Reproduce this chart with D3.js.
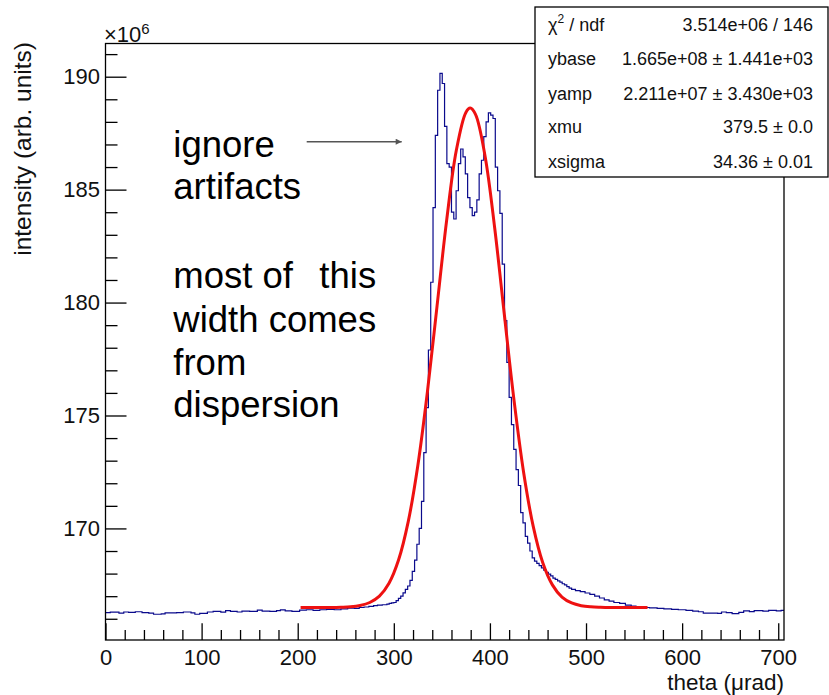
<!DOCTYPE html>
<html><head><meta charset="utf-8">
<script src="https://cdn.jsdelivr.net/npm/d3@7"></script>
<style>
html,body{margin:0;padding:0;background:#fff;}
svg{display:block;font-family:"Liberation Sans",Arial,Helvetica,sans-serif;}
</style></head>
<body><svg id="c" width="829" height="695"></svg>
<script>
// ---------- data (values in units of 1e6) ----------
const histBins = [ // [lowEdge, value]
[0,166.27],[5,166.29],[14,166.25],[19,166.3],[24,166.28],[31,166.31],[38,166.27],[45,166.25],[50,166.2],[58,166.22],
[62,166.26],[74,166.27],[81,166.3],[89,166.26],[93,166.2],[98,166.24],[106,166.3],[112,166.33],[120,166.29],[125,166.36],
[130,166.33],[137,166.3],[142,166.34],[150,166.33],[158,166.38],[163,166.34],[171,166.33],[178,166.36],[182,166.39],[187,166.35],
[194,166.33],[202,166.38],[209,166.4],[216,166.37],[223,166.4],[230,166.42],[238,166.4],[245,166.44],[252,166.47],[259,166.46],
[264,166.5],[269,166.52],[274,166.55],[279,166.58],[283,166.6],[288,166.62],[292.8,166.65],[295.2,166.68],[297.6,166.7],
[300.0,166.72],[302.4,166.8],[304.8,166.9],[307.2,167.0],[309.6,167.15],[312.0,167.3],[314.4,167.45],[316.8,167.7],[319.2,168.1],
[321.6,168.6],[324.0,169.3],[326.4,170.0],[328.8,171.2],[331.2,173.36],[333.6,175.35],[336.0,177.9],[338.4,180.9],
[340.8,184.2],[343.2,187.4],[345.6,189.4],[348.0,190.15],[350.4,189.7],[352.8,187.8],[355.2,186.15],[357.6,186.0],
[360.0,184.0],[362.4,183.7],[364.8,184.95],[367.2,186.15],[369.6,186.8],[372.0,186.45],[374.4,185.7],[376.8,184.65],
[379.2,184.2],[381.6,183.85],[384.0,184.0],[386.4,184.55],[388.8,185.7],[391.2,186.3],[393.6,187.35],[396.0,188.0],
[398.4,188.4],[400.8,188.3],[403.2,188.15],[405.6,186.0],[408.0,184.95],[410.4,183.95],[412.8,181.7],[415.2,179.2],
[417.6,177.35],[420.0,175.8],[422.4,174.6],[424.8,173.5],[427.2,172.6],[429.6,171.9],[432.0,170.7],[434.4,170.25],
[436.8,169.65],[439.2,169.35],[441.6,169.0],[444.0,168.7],[446.4,168.55],[448.8,168.45],[451.2,168.35],[453.6,168.25],
[456.0,168.15],[458.4,168.05],[460.8,167.98],[463.2,167.9],[465.6,167.8],[468.0,167.74],[470.4,167.68],[472.8,167.62],
[475.2,167.55],[477.6,167.5],[480.0,167.42],[482.4,167.36],[485,167.3],[489,167.25],[494,167.2],[499,167.14],[504,167.08],
[509,167.0],[514,166.92],[519,166.84],[524,166.78],[529,166.72],[535,166.68],[541,166.6],[547,166.56],[552,166.53],
[559,166.5],[566,166.48],[574,166.46],[581,166.44],[589,166.42],[596,166.4],[604,166.37],[611,166.34],[617,166.31],
[622,166.25],[637,166.24],[641,166.3],[646,166.27],[652,166.23],[659,166.28],[664,166.35],[670,166.32],[675,166.36],
[684,166.34],[690,166.37],[698,166.35],[703,166.37]
];
const histEnd = 706;

const fitCurve = [ // [theta, value] read along the red fit
[203,166.50],[215,166.50],[225,166.50],[235,166.50],[245,166.51],[255,166.53],[265,166.59],[275,166.72],[285,167.00],
[295,167.57],[305,168.61],[315,170.30],[325,172.79],[335,176.06],[345,179.85],[355,183.65],[365,186.73],[375,188.42],
[379.5,188.61],[385,188.33],[395,186.47],[405,183.29],[415,179.47],[425,175.70],[435,172.50],[445,170.10],[455,168.48],
[465,167.50],[475,166.96],[485,166.70],[495,166.58],[505,166.53],[515,166.51],[525,166.50],[535,166.50],[545,166.50],
[555,166.50],[564,166.50]
];

const xMajorTicks = [0,100,200,300,400,500,600,700];
const yMajorTicks = [170,175,180,185,190];
const xDomain = [0, 706];
const yDomain = [165.06, 191.47];

const statLabels = ["χ2 / ndf","ybase","yamp","xmu","xsigma"];
const statValues = ["3.514e+06 / 146","1.665e+08 ± 1.441e+03","2.211e+07 ± 3.430e+03","379.5 ± 0.0","34.36 ± 0.01"];

const noteTop = ["ignore","artifacts"];
const noteBottom = ["most of","width comes","from","dispersion"];
const noteThis = "this";

const xTitle = "theta (μrad)";
const yTitle = "intensity (arb. units)";

// ---------- drawing ----------
const svg = d3.select("#c");
const FL = 105.5, FR = 784, FT = 43.5, FB = 640;
const x = d3.scaleLinear().domain(xDomain).range([FL, FR]);
const y = d3.scaleLinear().domain(yDomain).range([FB, FT]);

svg.append("rect").attr("width",829).attr("height",695).attr("fill","#fff");

// histogram
const stepPts = histBins.map(d=>[d[0],d[1]]).concat([[histEnd, histBins[histBins.length-1][1]]]);
svg.append("path")
  .attr("d", d3.line().x(d=>x(d[0])).y(d=>y(d[1])).curve(d3.curveStepAfter)(stepPts))
  .attr("fill","none").attr("stroke","#0a0a8c").attr("stroke-width",1.2);

// fit
svg.append("path")
  .attr("d", d3.line().x(d=>x(d[0])).y(d=>y(d[1])).curve(d3.curveCatmullRom)(fitCurve))
  .attr("fill","none").attr("stroke","#ee1111").attr("stroke-width",3).attr("stroke-linejoin","round");

// frame
svg.append("rect").attr("x",FL).attr("y",FT).attr("width",FR-FL).attr("height",FB-FT)
  .attr("fill","none").attr("stroke","#000").attr("stroke-width",1.3);

// axes
const fontFam = '"Liberation Sans",Arial,Helvetica,sans-serif';
const xMinor = d3.range(0, 707, 20).filter(v=>v%100!==0);
const gxMin = svg.append("g").attr("transform",`translate(0,${FB})`)
  .call(d3.axisBottom(x).tickValues(xMinor).tickSize(-10).tickFormat(""));
const gx = svg.append("g").attr("transform",`translate(0,${FB})`)
  .call(d3.axisBottom(x).tickValues(xMajorTicks).tickSize(-16.7).tickPadding(9).tickFormat(d3.format("d")));
const yMinor = d3.range(166, 192, 1).filter(v=>v%5!==0);
const gyMin = svg.append("g").attr("transform",`translate(${FL},0)`)
  .call(d3.axisLeft(y).tickValues(yMinor).tickSize(-12).tickFormat(""));
const gy = svg.append("g").attr("transform",`translate(${FL},0)`)
  .call(d3.axisLeft(y).tickValues(yMajorTicks).tickSize(-21).tickPadding(5.5).tickFormat(d3.format("d")));
[gx,gy,gxMin,gyMin].forEach(g=>{
  g.select(".domain").remove();
  g.selectAll("line").attr("stroke","#000").attr("stroke-width",1.3);
  g.selectAll("text").attr("font-size",22).attr("font-family",fontFam).attr("fill","#111");
});

// exponent label
const ex = svg.append("text").attr("x",104).attr("y",41.5).attr("font-size",22).attr("fill","#111");
ex.append("tspan").text("×10");
ex.append("tspan").attr("font-size",15).attr("dy",-8).text("6");

// axis titles
svg.append("text").attr("x",FR).attr("y",690).attr("text-anchor","end")
  .attr("font-size",22.5).attr("fill","#111").text(xTitle);
svg.append("text").attr("transform","translate(31,42) rotate(-90)").attr("text-anchor","end")
  .attr("font-size",24.5).attr("fill","#111").text(yTitle);

// stats box
svg.append("rect").attr("x",535).attr("y",7).attr("width",293).attr("height",170)
  .attr("fill","#fff").attr("stroke","#000").attr("stroke-width",1.3);
const rowBase = [30.7,65,100,133.3,168.3];
statLabels.forEach((lab,i)=>{
  const t = svg.append("text").attr("x",548).attr("y",rowBase[i]).attr("font-size",18).attr("fill","#111");
  if(i===0){
    t.append("tspan").text("χ");
    t.append("tspan").attr("font-size",12).attr("dy",-8).text("2");
    t.append("tspan").attr("dy",8).text(" / ndf");
  } else t.text(lab);
  svg.append("text").attr("x",813).attr("y",rowBase[i]).attr("text-anchor","end")
    .attr("font-size",18).attr("fill","#111").text(statValues[i]);
});

// annotations
const noteFs = 36.5, noteX = 173.3;
noteTop.forEach((s,i)=>svg.append("text").attr("x",noteX).attr("y",156.7+42.6*i)
  .attr("font-size",noteFs).attr("fill","#000").text(s));
const bottomBase = [288.3,332.2,374.5,416.7];
let wcWidth = 0;
noteBottom.forEach((s,i)=>{
  const t = svg.append("text").attr("x",noteX).attr("y",bottomBase[i])
    .attr("font-size",noteFs).attr("fill","#000").text(s);
  if(s==="width comes") wcWidth = t.node().getComputedTextLength();
});
svg.append("text").attr("x",noteX+wcWidth).attr("y",bottomBase[0]).attr("text-anchor","end")
  .attr("font-size",noteFs).attr("fill","#000").text(noteThis);

// arrow
svg.append("defs").append("marker").attr("id","ah").attr("viewBox","0 0 10 10")
  .attr("refX",10).attr("refY",5).attr("markerWidth",10).attr("markerHeight",6)
  .attr("markerUnits","userSpaceOnUse").attr("orient","auto")
  .append("path").attr("d","M0,0 L10,5 L0,10 z").attr("fill","#555");
svg.append("line").attr("x1",306.7).attr("y1",141.7).attr("x2",401.7).attr("y2",141.7)
  .attr("stroke","#555").attr("stroke-width",1.5).attr("marker-end","url(#ah)");
</script></body></html>
